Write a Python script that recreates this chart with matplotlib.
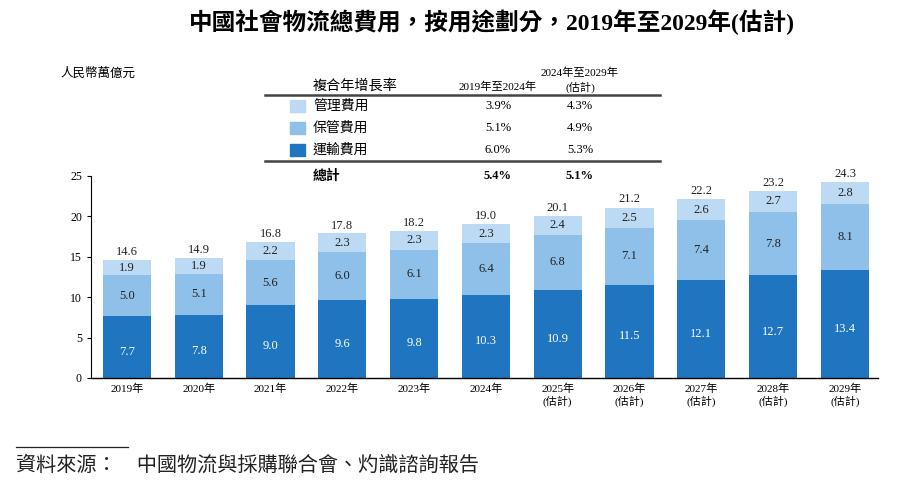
import numpy as np
import matplotlib
matplotlib.use("Agg")
import matplotlib.pyplot as plt
from matplotlib.patches import Rectangle
from matplotlib.lines import Line2D

plt.rcParams['font.family'] = ['Liberation Serif', 'Noto Sans CJK TC']

years = ['2019年', '2020年', '2021年', '2022年', '2023年', '2024年',
         '2025年\n(估計)', '2026年\n(估計)', '2027年\n(估計)', '2028年\n(估計)', '2029年\n(估計)']
transport = [7.7, 7.8, 9.0, 9.6, 9.8, 10.3, 10.9, 11.5, 12.1, 12.7, 13.4]
storage   = [5.0, 5.1, 5.6, 6.0, 6.1, 6.4, 6.8, 7.1, 7.4, 7.8, 8.1]
admin     = [1.9, 1.9, 2.2, 2.3, 2.3, 2.3, 2.4, 2.5, 2.6, 2.7, 2.8]
totals    = [14.6, 14.9, 16.8, 17.8, 18.2, 19.0, 20.1, 21.2, 22.2, 23.2, 24.3]

series_names = ['管理費用', '保管費用', '運輸費用']
cagr_1924 = ['3.9%', '5.1%', '6.0%']
cagr_2429 = ['4.3%', '4.9%', '5.3%']
total_cagr = ['5.4%', '5.1%']

c_dark = '#1f75bf'
c_mid = '#8ec0e9'
c_light = '#bcdaf3'

fig = plt.figure(figsize=(9.13, 4.91), dpi=100)
ax = fig.add_axes([91/913, 1-378/491, (878-91)/913, (378-176)/491])

x = np.arange(len(years))
w = 0.67
t = np.array(transport)
s = np.array(storage)
a = np.array(admin)
ax.bar(x, t, w, color=c_dark)
ax.bar(x, s, w, bottom=t, color=c_mid)
ax.bar(x, a, w, bottom=t+s, color=c_light)

fs = 9
for i in x:
    ax.text(i, t[i]/2 - 0.6, f'{t[i]:.1f}', ha='center', va='center', fontsize=fs, color='white')
    ax.text(i, t[i] + s[i]/2, f'{s[i]:.1f}', ha='center', va='center', fontsize=fs, color='#222222')
    ax.text(i, t[i] + s[i] + a[i]/2, f'{a[i]:.1f}', ha='center', va='center', fontsize=fs, color='#222222')
    ax.text(i, totals[i] + 0.25, f'{totals[i]:.1f}', ha='center', va='bottom', fontsize=fs, color='#222222')

ax.set_xlim(-0.5, 10.46)
ax.set_ylim(0, 25)
ax.set_yticks(np.arange(0, 26, 5))
ax.set_xticks(x)
ax.set_xticklabels(years, fontsize=8)
ax.tick_params(axis='x', length=0, pad=4)
ax.tick_params(axis='y', labelsize=8.5, length=3, direction='out')
for sp in ['top', 'right']:
    ax.spines[sp].set_visible(False)
ax.spines['left'].set_linewidth(0.8)
ax.spines['bottom'].set_linewidth(1.0)

# unit label
fig.text(60/913, 1-74/491, '人民幣萬億元', fontsize=9, va='center', ha='left')

# title
fig.text(492/913, 1-22/491, '中國社會物流總費用，按用途劃分，2019年至2029年(估計)',
         fontsize=17, fontweight='bold', ha='center', va='center')

# CAGR table
def fy(py):
    return 1 - py/491
def fx(px):
    return px/913

fig.text(fx(313), fy(86), '複合年增長率', fontsize=10.2, va='center', ha='left')
fig.text(fx(498), fy(87), '2019年至2024年', fontsize=8.1, va='center', ha='center')
fig.text(fx(580), fy(73), '2024年至2029年', fontsize=8.1, va='center', ha='center')
fig.text(fx(580), fy(87), '(估計)', fontsize=8.1, va='center', ha='center')
fig.add_artist(Line2D([fx(265), fx(660)], [fy(95), fy(95)], color='#444444', lw=1.8))
fig.add_artist(Line2D([fx(265), fx(660)], [fy(161), fy(161)], color='#444444', lw=1.8))

row_y = [106, 128, 150]
row_colors = [c_light, c_mid, c_dark]
for name, v1, v2, ry, col in zip(series_names, cagr_1924, cagr_2429, row_y, row_colors):
    fig.add_artist(Rectangle((fx(290), fy(ry + 6)), 15/913, 12/491, color=col))
    fig.text(fx(313), fy(ry), name, fontsize=10, va='center', ha='left')
    fig.text(fx(498), fy(ry), v1, fontsize=9, va='center', ha='center')
    fig.text(fx(580), fy(ry), v2, fontsize=9, va='center', ha='center')

fig.text(fx(313), fy(176), '總計', fontsize=10, va='center', ha='left', fontweight='bold')
fig.text(fx(498), fy(176), total_cagr[0], fontsize=9, va='center', ha='center', fontweight='bold')
fig.text(fx(580), fy(176), total_cagr[1], fontsize=9, va='center', ha='center', fontweight='bold')

# source
fig.add_artist(Line2D([fx(16), fx(128)], [fy(447), fy(447)], color='#222222', lw=0.9))
fig.text(fx(16), fy(466), '資料來源：　中國物流與採購聯合會、灼識諮詢報告',
         fontsize=14.5, va='center', ha='left', style='italic', color='#222222')

fig.savefig('out.png', dpi=100)
